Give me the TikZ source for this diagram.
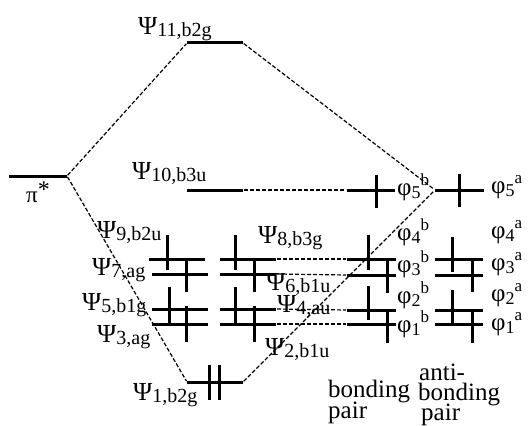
\documentclass[tikz,border=0pt]{standalone}
\usepackage{fontspec}
\setmainfont{Liberation Serif}
\newcommand\Psl[1]{Ψ\raisebox{-2pt}{\fontsize{20}{20}\selectfont #1}}
\newcommand\Phl[2]{φ\raisebox{-3pt}{\fontsize{18}{18}\selectfont #1}\raisebox{10pt}{\fontsize{17}{17}\selectfont #2}}
\newcommand\lev[4]{\coordinate (#1-l) at (#2,#4); \coordinate (#1-r) at (#3,#4); \draw[lvl] (#1-l) -- (#1-r);}
\newcommand\spn[3]{\draw[spin] (#1,#2) -- (#1,#3);}
\begin{document}
\begin{tikzpicture}[x=1pt,y=-1pt,
  lvl/.style={line width=3pt},
  spin/.style={line width=3pt},
  conn/.style={line width=1.2pt, dash pattern=on 4pt off 2pt, shorten <=1pt, shorten >=1pt},
  lab/.style={font=\fontsize{26}{26}\selectfont, inner sep=0pt, anchor=west},
  phl/.style={font=\fontsize{25}{25}\selectfont, inner sep=0pt, anchor=west},
  txt/.style={font=\fontsize{25}{21}\selectfont, inner sep=0pt, anchor=west}]
\useasboundingbox (0,0) rectangle (529,425);
% levels
\lev{pi}{9}{67}{176}
\lev{p11}{187}{243}{43}
\lev{p10}{187}{243}{190}
\lev{p1}{187}{243}{382}
\lev{ca}{149}{205}{259}
\lev{cb}{152}{208}{274}
\lev{cc}{152}{208}{309}
\lev{cd}{152}{208}{324}
\lev{da}{220}{276}{259}
\lev{db}{220}{276}{274}
\lev{dc}{220}{276}{309}
\lev{dd}{220}{276}{324}
\lev{f5b}{347}{395}{190}
\lev{ba}{347}{396}{259}
\lev{bb}{347}{396}{275}
\lev{bc}{347}{396}{310}
\lev{bd}{347}{396}{324}
\lev{f5a}{435}{484}{190}
\lev{aa}{435}{483}{259}
\lev{ab}{435}{483}{275}
\lev{ac}{435}{483}{310}
\lev{ad}{435}{483}{324}
% spins
\spn{167}{235}{270}\spn{186}{258}{292}\spn{169}{287}{324}\spn{186}{306}{342}
\spn{235}{235}{270}\spn{254}{258}{292}\spn{235}{287}{324}\spn{254}{306}{342}
\spn{368}{235}{270}\spn{387}{260}{293}\spn{368}{286}{320}\spn{387}{312}{343}
\spn{452}{237}{272}\spn{472}{260}{292}\spn{452}{290}{323}\spn{472}{312}{343}
\spn{376}{175}{208}\spn{459}{174}{207}
\spn{209}{365}{400}\spn{219}{365}{400}
% connectors
\draw[conn] (pi-r) -- (p11-l);
\draw[conn] (pi-r) -- (p1-l);
\draw[conn] (p11-r) -- (f5a-l);
\draw[conn] (p1-r) -- (f5a-l);
\draw[conn] (p10-r) -- (f5b-l);
\draw[conn] (da-r) -- (ba-l);
\draw[conn] (db-r) -- (bb-l);
\draw[conn] (dc-r) -- (bc-l);
\draw[conn] (dd-r) -- (bd-l);
% labels
\node[lab] (lpi) at (26,192) {\fontsize{23}{23}\selectfont π\raisebox{5pt}{\fontsize{24}{24}\selectfont *}};
\node[lab] (l11) at (138,29) {\Psl{11,b2g}};
\node[lab] (l10) at (132,174) {\Psl{10,b3u}};
\node[lab] (l9) at (97,233) {\Psl{9,b2u}};
\node[lab] (l7) at (92,270) {\Psl{7,ag}};
\node[lab] (l5) at (82,305) {\Psl{5,b1g}};
\node[lab] (l3) at (97,337) {\Psl{3,ag}};
\node[lab] (l1) at (133,395) {\Psl{1,b2g}};
\node[lab] (l8) at (258,238) {\Psl{8,b3g}};
\node[lab] (l6) at (266,285) {\Psl{6,b1u}};
\node[lab] (l4) at (277,307) {\Psl{4,au}};
\node[lab] (l2) at (265,350) {\Psl{2,b1u}};
\node[phl] (f5bl) at (397,187) {\Phl{5}{b}};
\node[phl] (f4bl) at (397,232) {\Phl{4}{b}};
\node[phl] (f3bl) at (397,264) {\Phl{3}{b}};
\node[phl] (f2bl) at (397,295) {\Phl{2}{b}};
\node[phl] (f1bl) at (397,324) {\Phl{1}{b}};
\node[phl] (f5al) at (491,187) {\Phl{5}{a}};
\node[phl] (f4al) at (491,232) {\Phl{4}{a}};
\node[phl] (f3al) at (491,264) {\Phl{3}{a}};
\node[phl] (f2al) at (491,295) {\Phl{2}{a}};
\node[phl] (f1al) at (491,324) {\Phl{1}{a}};
\node[txt] (bp1) at (328,392) {bonding};
\node[txt] (bp2) at (328,413) {pair};
\node[txt] (ab1) at (419,372) {anti-};
\node[txt] (ab2) at (418,395) {bonding};
\node[txt] (ab3) at (421,415) {pair};
\end{tikzpicture}
\end{document}
